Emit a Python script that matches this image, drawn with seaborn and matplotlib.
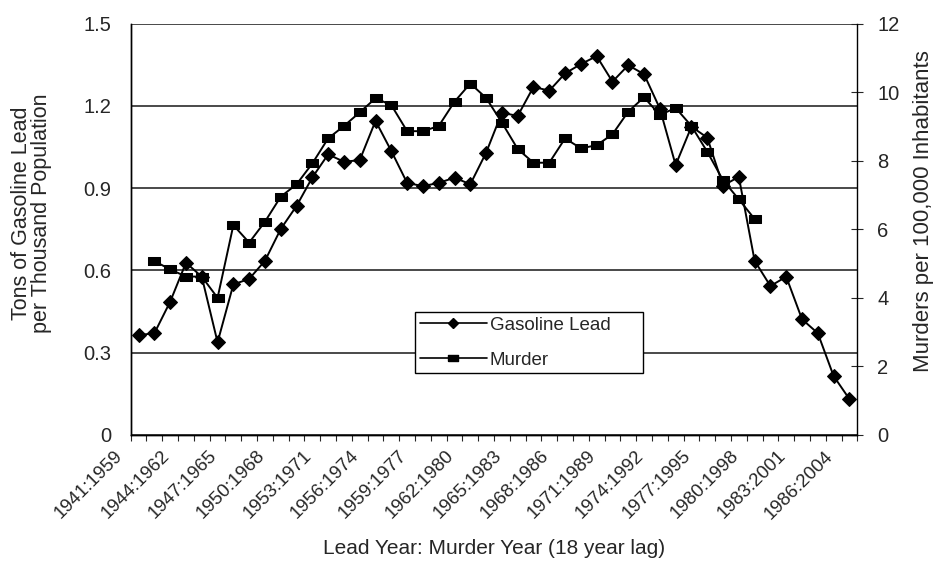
import numpy as np
import pandas as pd
import seaborn as sns
import matplotlib.pyplot as plt
import matplotlib.transforms as mtransforms
from matplotlib.lines import Line2D

'''

values read off the chart (lead year i -> murder year i + 18)

'''

lead_year = list(range(1941, 1987))
tick_years = lead_year[::3]

gasoline_lead = [0.364, 0.371, 0.486, 0.628, 0.577, 0.338, 0.549, 0.569, 0.635, 0.751,
                 0.835, 0.939, 1.023, 0.996, 1.002, 1.145, 1.035, 0.919, 0.907, 0.919,
                 0.938, 0.914, 1.029, 1.175, 1.163, 1.269, 1.255, 1.318, 1.352, 1.381,
                 1.288, 1.348, 1.315, 1.190, 0.984, 1.124, 1.084, 0.909, 0.941, 0.635,
                 0.543, 0.577, 0.422, 0.371, 0.215, 0.131]

murder = [np.nan, 5.07, 4.83, 4.62, 4.62, 4.00, 6.12, 5.61, 6.22, 6.95,
          7.31, 7.92, 8.65, 9.01, 9.41, 9.82, 9.62, 8.86, 8.86, 9.01,
          9.72, 10.25, 9.83, 9.11, 8.34, 7.94, 7.94, 8.65, 8.36, 8.45,
          8.77, 9.43, 9.85, 9.33, 9.54, 9.01, 8.26, 7.43, 6.87, 6.30,
          np.nan, np.nan, np.nan, np.nan, np.nan, np.nan]

df = pd.DataFrame({'lead_year': lead_year,
                   'lead': gasoline_lead,
                   'murder': murder})

sns.set_theme(style='white')
plt.rcParams['font.family'] = ['Liberation Sans', 'DejaVu Sans']

# flat square marker like the excel one
flat_square = [(-1, -0.65), (1, -0.65), (1, 0.65), (-1, 0.65), (-1, -0.65)]

fig = plt.figure(figsize=(9.37, 5.62), dpi=100)
ax = fig.add_axes([130.7 / 937, 1 - 435 / 562, (857.3 - 130.7) / 937, (435 - 23.5) / 562])
ax2 = ax.twinx()

sns.lineplot(data=df, x='lead_year', y='lead', ax=ax, color='black',
             marker='D', markersize=7.5, linewidth=1.4, markeredgecolor='black',
             legend=False)
sns.lineplot(data=df.dropna(), x='lead_year', y='murder', ax=ax2, color='black',
             marker=flat_square, markersize=8, linewidth=1.4, markeredgecolor='black',
             legend=False)

# left axis
ax.set_ylim(0, 1.5)
ax.set_yticks([0, 0.3, 0.6, 0.9, 1.2, 1.5])
ax.set_yticklabels(['0', '0.3', '0.6', '0.9', '1.2', '1.5'], fontsize=14.5)
ax.tick_params(axis='y', length=0, pad=14)
ax.grid(axis='y', color='#2a2a2a', linewidth=1.2)
ax.set_axisbelow(True)
ax.set_ylabel('Tons of Gasoline Lead\nper Thousand Population', fontsize=15.5,
              linespacing=0.95)
ax.yaxis.set_label_coords(-0.108, 0.54)

# right axis
ax2.set_ylim(0, 12)
ax2.set_yticks(range(0, 13, 2))
ax2.tick_params(axis='y', direction='inout', length=9, width=0.8, pad=10, labelsize=14.5)
ax2.set_ylabel('Murders per 100,000 Inhabitants', fontsize=16)
ax2.yaxis.set_label_coords(1.077, 0.545)
ax2.grid(False)

# x axis: categories with ticks between them
ax.set_xlim(lead_year[0] - 0.5, lead_year[-1] + 0.5)
ax.set_xticks(tick_years)
ax.set_xticklabels([f'{y}:{y + 18}' for y in tick_years], rotation=45,
                   ha='right', va='top', fontsize=13.5)
ax.set_xticks(np.arange(lead_year[0] - 0.5, lead_year[-1] + 1), minor=True)
ax.tick_params(axis='x', which='major', length=0, pad=9)
ax.tick_params(axis='x', which='minor', bottom=True, direction='out', length=4, width=0.8)
ax.set_xlabel('Lead Year: Murder Year (18 year lag)', fontsize=15, va='center')
ax.xaxis.set_label_coords(0.5, -0.275)
ax2.set_xlabel('')

for a in (ax, ax2):
    for side in ['left', 'right', 'bottom']:
        a.spines[side].set_color('black')
        a.spines[side].set_linewidth(1.0)
    a.spines['top'].set_visible(False)
ax.spines['right'].set_visible(False)

shift = mtransforms.ScaledTranslation(-0.13, 0, fig.dpi_scale_trans)
for lbl in ax.get_xticklabels():
    lbl.set_transform(lbl.get_transform() + shift)

handles = [Line2D([], [], color='black', marker='D', markersize=5, linewidth=1.2),
           Line2D([], [], color='black', marker=flat_square, markersize=6.5, linewidth=1.2)]
leg = ax2.legend(handles, ['Gasoline Lead', 'Murder'], loc='upper left',
                 bbox_to_anchor=(415 / 937, 1 - 381 / 562, 228 / 937, 69 / 562),
                 bbox_transform=fig.transFigure, mode='expand',
                 fontsize=13.5, frameon=True, fancybox=False, edgecolor='black',
                 framealpha=1, handlelength=3.6, labelspacing=0.95, borderaxespad=0,
                 handletextpad=0.15, borderpad=0.25, numpoints=1)
leg.get_frame().set_linewidth(1.0)

plt.savefig('out.png', dpi=100)
plt.close()
